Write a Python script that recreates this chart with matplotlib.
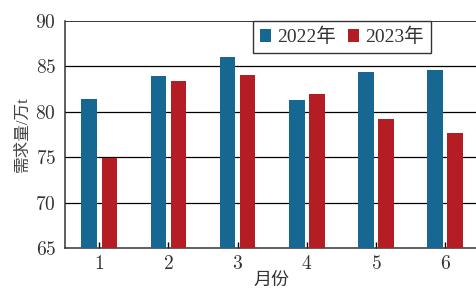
import numpy as np
import matplotlib
matplotlib.use("Agg")
import matplotlib.pyplot as plt

plt.rcParams['font.family'] = ['Liberation Serif', 'Noto Sans CJK SC']
plt.rcParams['mathtext.fontset'] = 'cm'

months = ['1', '2', '3', '4', '5', '6']
demand_2022 = [81.4, 83.9, 86.0, 81.3, 84.4, 84.6]
demand_2023 = [74.9, 83.4, 84.0, 82.0, 79.2, 77.7]
yticks = [65, 70, 75, 80, 85, 90]
series_names = ['2022年', '2023年']

blue = '#166791'
red = '#b51d24'
txt = '#333333'

fig = plt.figure(figsize=(4.77, 2.88), dpi=100)
ax = fig.add_axes([0.1363, 0.139, 0.8637, 0.788])
ax.patch.set_visible(False)

x = np.arange(1, len(months) + 1)
w = 0.225
ax.bar(x - 0.145, np.array(demand_2022) - 65, w, bottom=65, color=blue,
       label=series_names[0], zorder=3)
ax.bar(x + 0.145, np.array(demand_2023) - 65, w, bottom=65, color=red,
       label=series_names[1], zorder=3)

# horizontal grid lines, top one doubles as the frame line
for v in yticks[1:]:
    ax.axhline(v, color='black', lw=0.9 if v < 90 else 1.1, zorder=1)

ax.set_xlim(0.505, 6.46)
ax.set_ylim(65, 90)
ax.set_xticks(x)
ax.set_xticklabels(['$%s$' % m for m in months])
ax.set_yticks(yticks)
ax.set_yticklabels(['$%d$' % v for v in yticks])
ax.tick_params(axis='x', direction='in', length=4, width=1,
               labelsize=14, labelcolor=txt, pad=5)
ax.tick_params(axis='y', left=False, right=False, labelsize=14,
               labelcolor=txt, pad=3)

for s in ['left', 'bottom']:
    ax.spines[s].set_color('#333333')
    ax.spines[s].set_linewidth(1.1)
ax.spines['right'].set_visible(False)
ax.spines['top'].set_visible(False)

ax.set_xlabel('月份', fontsize=13, color=txt, labelpad=-1)
ax.set_ylabel('需求量/万t', fontsize=12, color='#444444', labelpad=3)

leg = ax.legend(loc='upper left', bbox_to_anchor=(0.456, 1.0),
                ncol=2, fontsize=14, frameon=True, fancybox=False, framealpha=1,
                edgecolor='#333333', handlelength=0.6, handleheight=0.6,
                handletextpad=0.3, columnspacing=0.6, borderpad=0.35,
                borderaxespad=0)
leg.get_frame().set_linewidth(1.0)
for t in leg.get_texts():
    t.set_color(txt)

fig.savefig('out.png', dpi=100)
